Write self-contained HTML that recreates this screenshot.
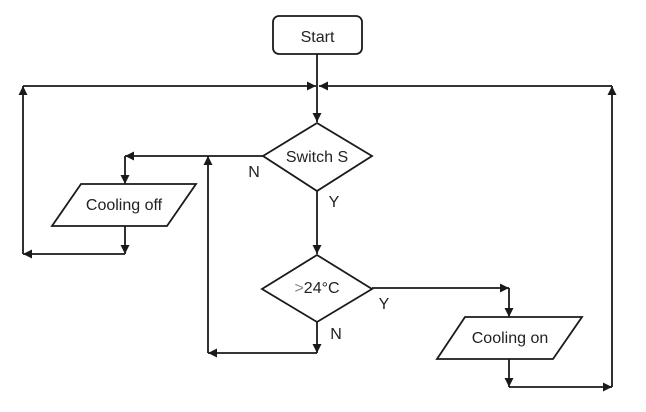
<!DOCTYPE html>
<html><head><style>body{margin:0;background:#fff;}svg{display:block}</style></head><body>
<svg width="646" height="412" viewBox="0 0 646 412" xmlns="http://www.w3.org/2000/svg" font-family="Liberation Sans, sans-serif" fill="none" stroke="#1a1a1a" stroke-width="1.8">
<defs><marker id="a" viewBox="0 0 10 10" refX="10" refY="5" markerWidth="9" markerHeight="9" orient="auto-start-reverse" markerUnits="userSpaceOnUse"><path d="M0,0 L10,5 L0,10 z" fill="#1a1a1a" stroke="none"/></marker></defs>
<rect x="273" y="16" width="89" height="38" rx="6"/>
<text x="317.5" y="42" font-size="16" fill="#222" stroke="none" text-anchor="middle">Start</text>
<line x1="317" y1="54" x2="317" y2="122" marker-end="url(#a)"/>
<line x1="23" y1="86" x2="316" y2="86" marker-end="url(#a)"/>
<line x1="612" y1="86" x2="319" y2="86" marker-end="url(#a)"/>
<polygon points="317,123 372,156 317,191 263,156"/>
<text x="317" y="162" font-size="16" fill="#222" stroke="none" text-anchor="middle">Switch S</text>
<line x1="263" y1="156" x2="125" y2="156" marker-end="url(#a)"/>
<line x1="125" y1="156" x2="125" y2="184" marker-end="url(#a)"/>
<polygon points="81,184 196,184 167,226 52,226"/>
<text x="124" y="210" font-size="16" fill="#222" stroke="none" text-anchor="middle">Cooling off</text>
<line x1="125" y1="226" x2="125" y2="254" marker-end="url(#a)"/>
<line x1="125" y1="254" x2="23" y2="254" marker-end="url(#a)"/>
<line x1="23" y1="254" x2="23" y2="86" marker-end="url(#a)"/>
<line x1="208" y1="353" x2="208" y2="156" marker-end="url(#a)"/>
<text x="254" y="177" font-size="16" fill="#222" stroke="none" text-anchor="middle">N</text>
<text x="334" y="207" font-size="16" fill="#222" stroke="none" text-anchor="middle">Y</text>
<line x1="317" y1="191" x2="317" y2="254" marker-end="url(#a)"/>
<polygon points="317,255 372,289 317,322 262,289"/>
<text x="317" y="293" font-size="16" fill="#222" stroke="none" text-anchor="middle"><tspan fill="#888">&gt;</tspan>24°C</text>
<line x1="372" y1="288" x2="509" y2="288" marker-end="url(#a)"/>
<line x1="509" y1="288" x2="509" y2="317" marker-end="url(#a)"/>
<text x="384" y="309" font-size="16" fill="#222" stroke="none" text-anchor="middle">Y</text>
<line x1="317" y1="322" x2="317" y2="353" marker-end="url(#a)"/>
<line x1="317" y1="353" x2="208" y2="353" marker-end="url(#a)"/>
<text x="336" y="339" font-size="16" fill="#222" stroke="none" text-anchor="middle">N</text>
<polygon points="465,317 582,317 553,359 437,359"/>
<text x="510" y="343" font-size="16" fill="#222" stroke="none" text-anchor="middle">Cooling on</text>
<line x1="509" y1="359" x2="509" y2="387" marker-end="url(#a)"/>
<line x1="509" y1="387" x2="612" y2="387" marker-end="url(#a)"/>
<line x1="612" y1="387" x2="612" y2="86" marker-end="url(#a)"/>
</svg>
</body></html>
